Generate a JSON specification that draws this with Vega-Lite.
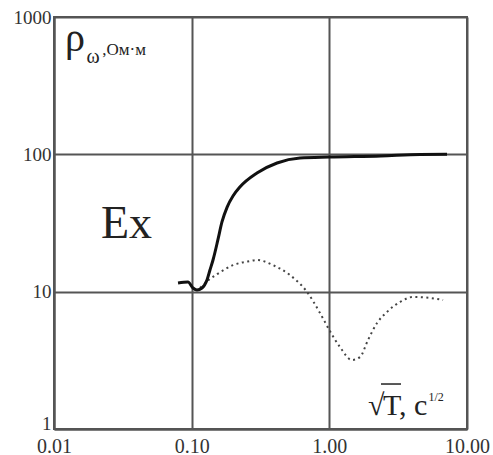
{
  "$schema": "https://vega.github.io/schema/vega-lite/v6.json",
  "autosize": "none",
  "width": 413,
  "height": 412,
  "padding": {"left": 54, "top": 17, "right": 26, "bottom": 26},
  "background": "white",
  "config": {
    "view": {"stroke": "#555", "strokeWidth": 2},
    "font": "Liberation Serif"
  },
  "datasets": {
    "ex_solid": [
      {"t": 0.0796, "rho": 11.56},
      {"t": 0.094, "rho": 11.76},
      {"t": 0.1023, "rho": 10.63},
      {"t": 0.1093, "rho": 10.28},
      {"t": 0.1189, "rho": 10.63},
      {"t": 0.1292, "rho": 12.16},
      {"t": 0.1358, "rho": 14.38},
      {"t": 0.1429, "rho": 17.0},
      {"t": 0.155, "rho": 23.8},
      {"t": 0.166, "rho": 32.2},
      {"t": 0.181, "rho": 41.3},
      {"t": 0.1996, "rho": 49.7},
      {"t": 0.224, "rho": 57.8},
      {"t": 0.298, "rho": 73.1},
      {"t": 0.417, "rho": 86.5},
      {"t": 0.612, "rho": 94.0},
      {"t": 1.0, "rho": 95.6},
      {"t": 2.37, "rho": 97.3},
      {"t": 4.56, "rho": 99.8},
      {"t": 7.16, "rho": 100.0}
    ],
    "ex_dotted": [
      {"t": 0.115, "rho": 10.63},
      {"t": 0.1358, "rho": 12.37},
      {"t": 0.153, "rho": 13.4},
      {"t": 0.2, "rho": 15.6},
      {"t": 0.265, "rho": 16.7},
      {"t": 0.298, "rho": 17.0},
      {"t": 0.39, "rho": 15.6},
      {"t": 0.518, "rho": 13.2},
      {"t": 0.689, "rho": 9.95},
      {"t": 0.855, "rho": 7.0},
      {"t": 1.0, "rho": 5.26},
      {"t": 1.195, "rho": 3.95},
      {"t": 1.46, "rho": 3.18},
      {"t": 1.67, "rho": 3.34},
      {"t": 1.91, "rho": 4.45},
      {"t": 2.22, "rho": 5.91},
      {"t": 2.62, "rho": 7.11},
      {"t": 3.26, "rho": 8.41},
      {"t": 4.05, "rho": 9.15},
      {"t": 5.38, "rho": 9.0},
      {"t": 6.7, "rho": 8.7}
    ]
  },
  "encoding": {
    "x": {
      "type": "quantitative",
      "scale": {"type": "log", "domain": [0.01, 10], "nice": false},
      "axis": {
        "title": null,
        "values": [0.01, 0.1, 1, 10],
        "format": ".2f",
        "grid": true,
        "gridColor": "#555",
        "gridWidth": 2,
        "gridOpacity": 1,
        "domainColor": "#555",
        "domainWidth": 2,
        "ticks": false,
        "labelFont": "Liberation Serif",
        "labelFontSize": 20,
        "labelColor": "#333",
        "labelPadding": 7,
        "labelFlush": false,
        "labelOverlap": false
      }
    },
    "y": {
      "type": "quantitative",
      "scale": {"type": "log", "domain": [1, 1000], "nice": false},
      "axis": {
        "title": null,
        "values": [1, 10, 100, 1000],
        "format": "d",
        "grid": true,
        "gridColor": "#555",
        "gridWidth": 2,
        "gridOpacity": 1,
        "domainColor": "#555",
        "domainWidth": 2,
        "ticks": false,
        "labelFont": "Liberation Serif",
        "labelFontSize": 19,
        "labelColor": "#333",
        "labelPadding": 3,
        "labelBaseline": {"condition": {"test": "datum.value == 1", "value": "alphabetic"}, "value": "middle"},
        "labelFlush": false,
        "labelOverlap": false
      }
    }
  },
  "layer": [
    {
      "data": {"name": "ex_dotted"},
      "mark": {"type": "line", "interpolate": "monotone", "color": "#444", "strokeWidth": 2, "strokeDash": [2, 3.5]},
      "encoding": {"x": {"field": "t"}, "y": {"field": "rho"}}
    },
    {
      "data": {"name": "ex_solid"},
      "mark": {"type": "line", "interpolate": "monotone", "color": "#111", "strokeWidth": 3},
      "encoding": {"x": {"field": "t"}, "y": {"field": "rho"}}
    },
    {
      "data": {"values": [{}]},
      "mark": {"type": "text", "text": "ρ", "font": "Liberation Serif", "fontSize": 40, "align": "left", "baseline": "alphabetic", "color": "#222"},
      "encoding": {"x": {"datum": 0.01202}, "y": {"datum": 565}}
    },
    {
      "data": {"values": [{}]},
      "mark": {"type": "text", "text": "ω", "font": "Liberation Serif", "fontSize": 20, "align": "left", "baseline": "alphabetic", "color": "#222"},
      "encoding": {"x": {"datum": 0.0172}, "y": {"datum": 462}}
    },
    {
      "data": {"values": [{}]},
      "mark": {"type": "text", "text": ",Ом·м", "font": "Liberation Serif", "fontSize": 17, "align": "left", "baseline": "alphabetic", "color": "#222"},
      "encoding": {"x": {"datum": 0.0224}, "y": {"datum": 528}}
    },
    {
      "data": {"values": [{}]},
      "mark": {"type": "text", "text": "Ex", "font": "Liberation Serif", "fontSize": 46, "align": "left", "baseline": "alphabetic", "color": "#222"},
      "encoding": {"x": {"datum": 0.02193}, "y": {"datum": 24.6}}
    },
    {
      "data": {"values": [{}]},
      "mark": {"type": "text", "text": "√", "font": "Liberation Serif", "fontSize": 30, "align": "left", "baseline": "alphabetic", "color": "#222"},
      "encoding": {"x": {"datum": 1.91}, "y": {"datum": 1.265}}
    },
    {
      "data": {"values": [{}]},
      "mark": {"type": "rule", "color": "#222", "strokeWidth": 1.5},
      "encoding": {"x": {"datum": 2.372}, "x2": {"datum": 3.316}, "y": {"datum": 2.126}}
    },
    {
      "data": {"values": [{}]},
      "mark": {"type": "text", "text": "T, c", "font": "Liberation Serif", "fontSize": 30, "align": "left", "baseline": "alphabetic", "color": "#222"},
      "encoding": {"x": {"datum": 2.454}, "y": {"datum": 1.265}}
    },
    {
      "data": {"values": [{}]},
      "mark": {"type": "text", "text": "1/2", "font": "Liberation Serif", "fontSize": 12, "align": "left", "baseline": "alphabetic", "color": "#222"},
      "encoding": {"x": {"datum": 5.25}, "y": {"datum": 1.6}}
    }
  ]
}
